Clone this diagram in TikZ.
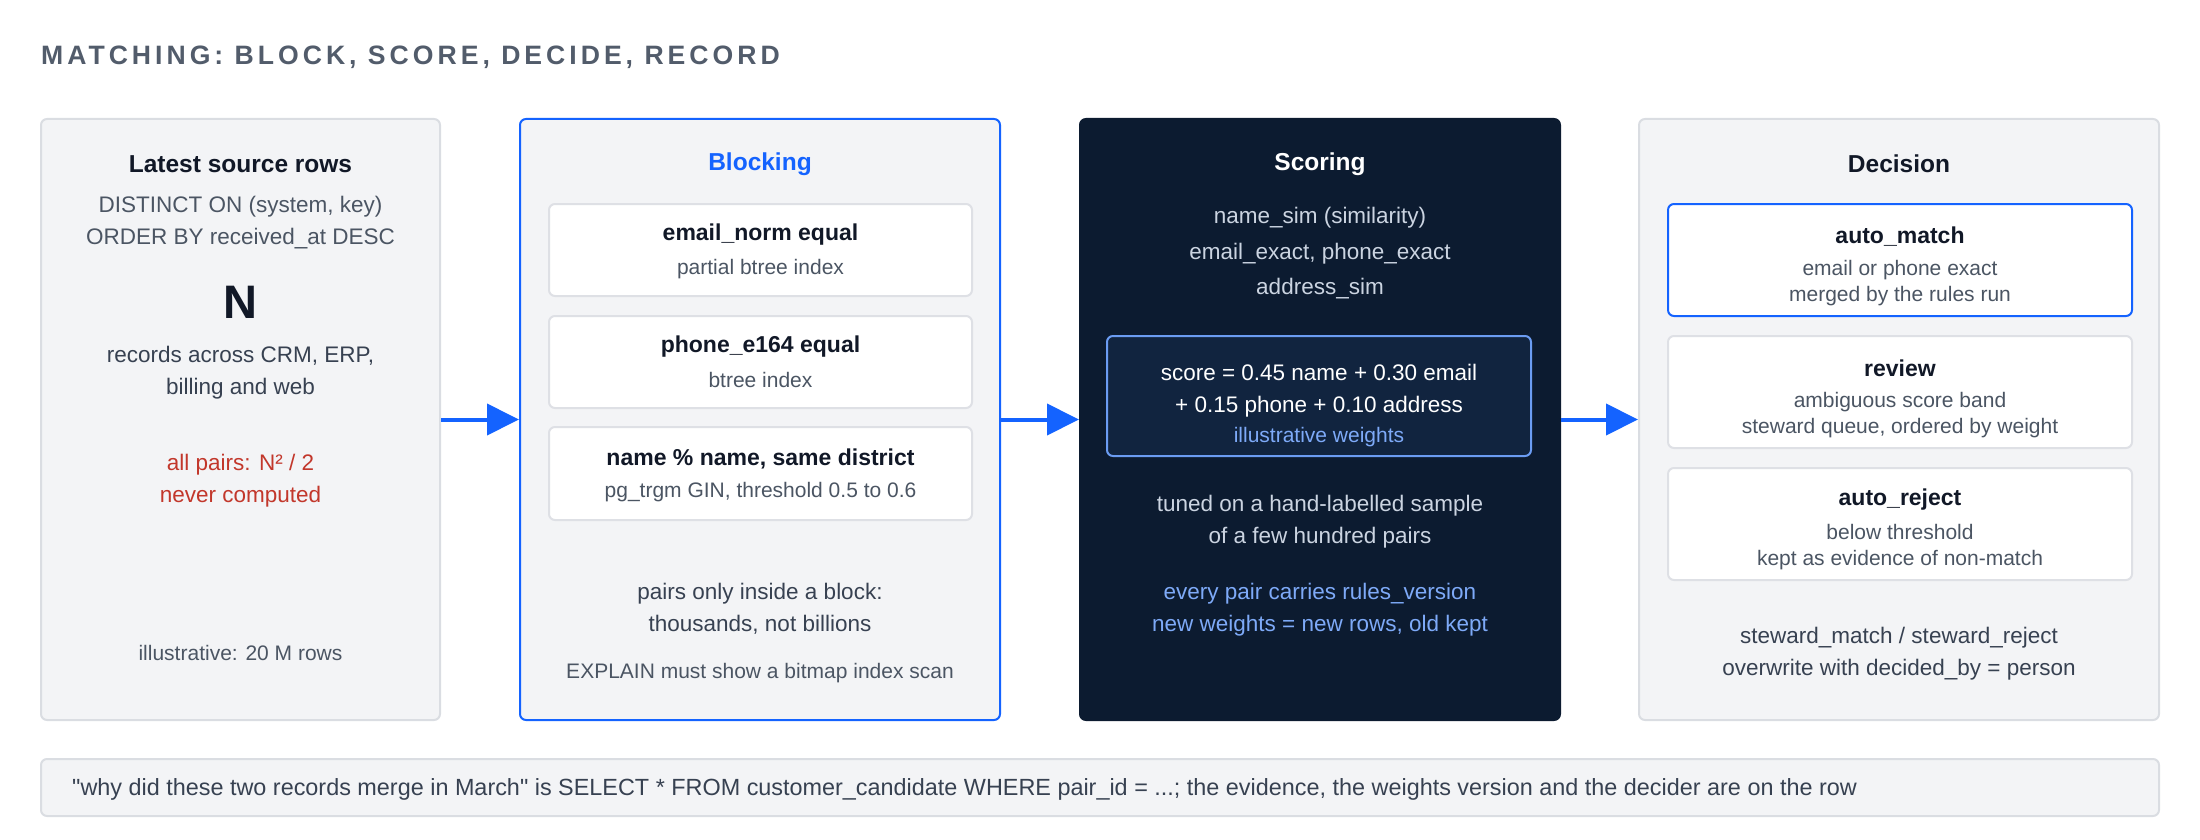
\documentclass[tikz,border=0pt]{standalone}
\usepackage{fontspec}
\setmainfont{Liberation Sans}
\newfontfamily\spacedfont[LetterSpace=15]{Liberation Sans}
\usetikzlibrary{arrows.meta}

\definecolor{ink}{HTML}{111827}
\definecolor{bodygrey}{HTML}{374151}
\definecolor{subgrey}{HTML}{4B5563}
\definecolor{titlegrey}{HTML}{525C6B}
\definecolor{panelfill}{HTML}{F3F4F6}
\definecolor{panelline}{HTML}{DADDE2}
\definecolor{cardline}{HTML}{DEE0E5}
\definecolor{flowblue}{HTML}{1463FF}
\definecolor{navy}{HTML}{0C1B30}
\definecolor{scorefill}{HTML}{11243F}
\definecolor{scoreline}{HTML}{6B9CF2}
\definecolor{palegrey}{HTML}{CBD4E1}
\definecolor{paleblue}{HTML}{7EAAF8}
\definecolor{warnred}{HTML}{C2372B}

\begin{document}
\begin{tikzpicture}[x=1pt, y=-1pt,
    panel/.style={draw=panelline, line width=2pt, fill=panelfill, rounded corners=6pt, inner sep=0pt},
    card/.style={draw=cardline, line width=2pt, fill=white, rounded corners=6pt, inner sep=0pt, minimum width=423pt},
    head/.style={font=\bfseries\fontsize{24.5}{30}\selectfont, text=ink},
    cardhead/.style={font=\bfseries\fontsize{23}{28}\selectfont, text=ink},
    body/.style={font=\fontsize{22.5}{32}\selectfont, text=bodygrey, align=center},
    sub/.style={font=\fontsize{21}{26}\selectfont, text=subgrey, align=center},
    flow/.style={-{Triangle[length=32pt, width=31pt]}, line width=4pt, draw=flowblue}]
    \useasboundingbox (0,0) rectangle (2200,840);

    % Title
    \node[anchor=west, inner sep=0pt, text=titlegrey, font=\spacedfont\bfseries\fontsize{26.6}{30}\selectfont] (title) at (41,57) {MATCHING: BLOCK, SCORE, DECIDE, RECORD};

    % Four stages
    \node[panel, minimum width=399pt, minimum height=601pt] (src) at (240.5,419.5) {};
    \node[panel, draw=flowblue, minimum width=480pt, minimum height=601pt] (blk) at (760,419.5) {};
    \node[panel, draw=navy, fill=navy, minimum width=480pt, minimum height=601pt] (scr) at (1320,419.5) {};
    \node[panel, minimum width=520pt, minimum height=601pt] (dec) at (1899,419.5) {};

    % Latest source rows
    \node[head] (srct) at (240.5,164) {Latest source rows};
    \node[body, text=subgrey] (srcq) at (240.5,223) {DISTINCT ON (system, key)\\ORDER BY received\_at DESC};
    \node[font=\bfseries\fontsize{47}{50}\selectfont, text=ink] (srcn) at (240.5,302) {N};
    \node[body] (srcr) at (240.5,372.5) {records across CRM, ERP,\\billing and web};
    \node[body, text=warnred] (srcp) at (240.5,481) {all pairs: N² / 2\\never computed};
    \node[sub] (srci) at (240.5,653) {illustrative: 20 M rows};

    % Blocking
    \node[head, text=flowblue] (blkt) at (760,164) {Blocking};
    \node[card, minimum height=92pt] (email) at (760.5,250) {};
    \node[card, minimum height=92pt] (phone) at (760.5,362) {};
    \node[card, minimum height=93pt] (trgm) at (760.5,473.5) {};
    \node[cardhead] (emailt) at (760.5,235) {email\_norm equal};
    \node[sub] (emails) at (760.5,269) {partial btree index};
    \node[cardhead] (phonet) at (760.5,347) {phone\_e164 equal};
    \node[sub] (phones) at (760.5,380) {btree index};
    \node[cardhead] (trgmt) at (760.5,459) {name \% name, same district};
    \node[sub] (trgms) at (760.5,492) {pg\_trgm GIN, threshold 0.5 to 0.6};
    \node[body] (blkp) at (760,608.5) {pairs only inside a block:\\thousands, not billions};
    \node[sub] (blke) at (760,673) {EXPLAIN must show a bitmap index scan};

    % Scoring
    \node[head, text=white] (scrt) at (1320,164) {Scoring};
    \node[body, text=palegrey, font=\fontsize{22.5}{35.5}\selectfont] (scrf) at (1320,253.5) {name\_sim (similarity)\\email\_exact, phone\_exact\\address\_sim};
    \node[panel, draw=scoreline, fill=scorefill, minimum width=424pt, minimum height=120pt] (wts) at (1319,396) {};
    \node[body, text=white] (wtsf) at (1319,391) {score = 0.45 name + 0.30 email\\+ 0.15 phone + 0.10 address};
    \node[sub, text=paleblue] (wtsi) at (1319,437) {illustrative weights};
    \node[body, text=palegrey] (scrs) at (1320,522) {tuned on a hand-labelled sample\\of a few hundred pairs};
    \node[body, text=paleblue] (scrv) at (1320,610) {every pair carries rules\_version\\new weights = new rows, old kept};

    % Decision
    \node[head] (dect) at (1899,164) {Decision};
    \node[card, draw=flowblue, minimum width=464pt, minimum height=112pt] (amatch) at (1900,260) {};
    \node[card, minimum width=464pt, minimum height=112pt] (rev) at (1900,392) {};
    \node[card, minimum width=464pt, minimum height=112pt] (arej) at (1900,524) {};
    \node[cardhead] (amatcht) at (1900,237) {auto\_match};
    \node[sub] (amatchs) at (1900,283) {email or phone exact\\merged by the rules run};
    \node[cardhead] (revt) at (1900,368) {review};
    \node[sub] (revs) at (1900,415) {ambiguous score band\\steward queue, ordered by weight};
    \node[cardhead] (arejt) at (1900,500) {auto\_reject};
    \node[sub] (arejs) at (1900,547) {below threshold\\kept as evidence of non-match};
    \node[body] (decs) at (1899,654) {steward\_match / steward\_reject\\overwrite with decided\_by = person};

    % Flow
    \draw[flow] (src.east) -- (blk.west);
    \draw[flow] (blk.east) -- (scr.west);
    \draw[flow] (scr.east) -- (dec.west);

    % Footnote bar
    \node[panel, minimum width=2118pt, minimum height=57pt] (note) at (1100,787.5) {};
    \node[anchor=west, inner sep=0pt, text=bodygrey, font=\fontsize{23.4}{26}\selectfont] (notet) at (72,789) {\textquotedbl why did these two records merge in March\textquotedbl{} is SELECT * FROM customer\_candidate WHERE pair\_id = ...; the evidence, the weights version and the decider are on the row};
\end{tikzpicture}
\end{document}
